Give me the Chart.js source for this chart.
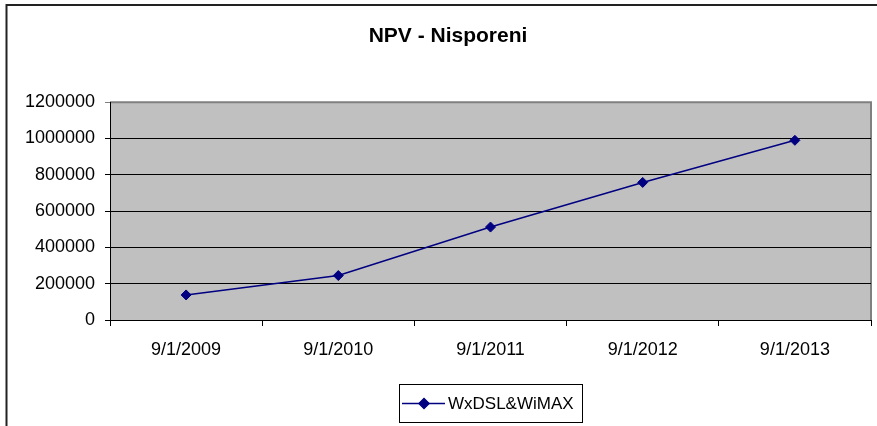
<!DOCTYPE html>
<html>
<head>
<meta charset="utf-8">
<title>NPV - Nisporeni</title>
<script src="https://cdn.jsdelivr.net/npm/chart.js@4.4.0/dist/chart.umd.min.js"></script>
<style>
  html, body { margin: 0; padding: 0; background: #fff; }
  #wrap { position: relative; width: 877px; height: 426px; }
</style>
</head>
<body>
<div id="wrap"><canvas id="npvChart" width="877" height="426"></canvas></div>
<script>
const dates = ['9/1/2009', '9/1/2010', '9/1/2011', '9/1/2012', '9/1/2013']
const npvValues = [138000, 245000, 512000, 758000, 990000]
const seriesName = 'WxDSL&WiMAX'
const chartTitle = 'NPV - Nisporeni'

const FONT = "'Liberation Sans', Arial, sans-serif"
const NAVY = '#000080'

// grey plot background, grey frame, outer chart frame and the boxed legend
const excelLook = {
    id: 'excelLook',
    beforeDraw(chart) {
        const {ctx, chartArea: a} = chart
        ctx.save()
        ctx.fillStyle = '#c0c0c0'
        ctx.fillRect(a.left, a.top, a.right - a.left, a.bottom - a.top)
        ctx.strokeStyle = '#808080'
        ctx.lineWidth = 2
        ctx.beginPath()
        ctx.moveTo(a.left, a.top)
        ctx.lineTo(a.right, a.top)
        ctx.lineTo(a.right, a.bottom)
        ctx.stroke()
        ctx.restore()
    },
    afterDraw(chart) {
        const {ctx} = chart
        ctx.save()
        // outer frame
        ctx.strokeStyle = '#222'
        ctx.lineWidth = 2
        ctx.beginPath()
        ctx.moveTo(6.5, 426)
        ctx.lineTo(6.5, 5)
        ctx.lineTo(877, 5)
        ctx.stroke()

        // legend
        const ds = chart.data.datasets[0]
        ctx.lineWidth = 1
        ctx.strokeStyle = '#000'
        ctx.strokeRect(399.5, 384.5, 183, 38)
        ctx.strokeStyle = NAVY
        ctx.lineWidth = 1.5
        ctx.beginPath()
        ctx.moveTo(402, 403.5)
        ctx.lineTo(445, 403.5)
        ctx.stroke()
        ctx.fillStyle = NAVY
        Chart.helpers.drawPoint(ctx, {pointStyle: 'rectRot', radius: 5, borderWidth: 1}, 424, 403.5)
        ctx.fillStyle = '#000'
        ctx.font = '17px ' + FONT
        ctx.textBaseline = 'middle'
        ctx.fillText(ds.label, 448, 404)
        ctx.restore()
    }
}

const config = {
    type: 'line',
    data: {
        labels: dates,
        datasets: [{
            label: seriesName,
            data: npvValues,
            borderColor: NAVY,
            backgroundColor: NAVY,
            borderWidth: 1.5,
            pointStyle: 'rectRot',
            pointRadius: 5,
            pointBorderWidth: 1,
            tension: 0
        }]
    },
    options: {
        responsive: false,
        animation: false,
        layout: {
            padding: {left: 22, right: 3, top: 0, bottom: 0}
        },
        plugins: {
            legend: {display: false},
            tooltip: {enabled: false},
            title: {
                display: true,
                text: chartTitle,
                color: '#000',
                font: {family: FONT, size: 21, weight: 'bold', lineHeight: 1.2},
                padding: {top: 24, bottom: 53}
            }
        },
        scales: {
            x: {
                offset: true,
                afterFit(scale) { scale.height = 106 },
                grid: {
                    offset: true,
                    drawOnChartArea: false,
                    drawTicks: true,
                    tickLength: 6,
                    color: '#000'
                },
                border: {color: '#000', width: 1},
                ticks: {
                    color: '#000',
                    padding: 13,
                    maxRotation: 0,
                    font: {family: FONT, size: 18}
                }
            },
            y: {
                min: 0,
                max: 1200000,
                afterFit(scale) { scale.width = 88 },
                grid: {
                    color: ctx => ctx.tick && ctx.tick.value === 1200000 ? '#808080' : '#000',
                    lineWidth: 1,
                    tickLength: 5
                },
                border: {color: '#000', width: 1},
                ticks: {
                    stepSize: 200000,
                    color: '#000',
                    padding: 10,
                    font: {family: FONT, size: 18},
                    callback: v => String(v)
                }
            }
        }
    },
    plugins: [excelLook]
}

const myChart = new Chart(document.getElementById('npvChart'), config)
</script>
</body>
</html>
